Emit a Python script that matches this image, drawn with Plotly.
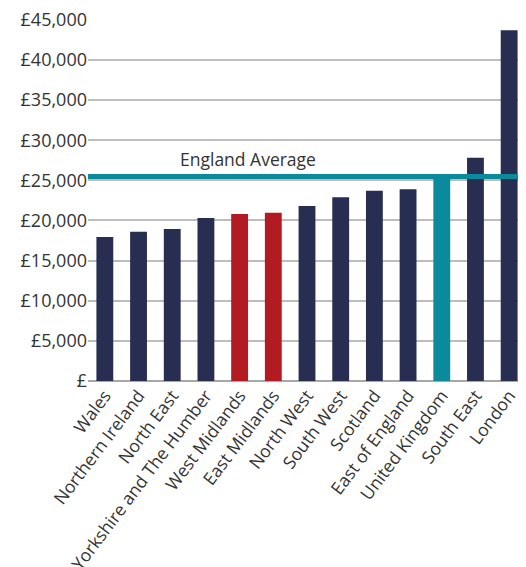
import plotly.graph_objects as go

regions = ["Wales", "Northern Ireland", "North East", "Yorkshire and The Humber",
           "West Midlands", "East Midlands", "North West", "South West", "Scotland",
           "East of England", "United Kingdom", "South East", "London"]
values = [17950, 18600, 18950, 20300, 20800, 20950, 21800, 22900, 23700, 23900,
          25500, 27800, 43700]
highlight = ["other", "other", "other", "other", "focus", "focus", "other", "other",
             "other", "other", "uk", "other", "other"]
england_average = 25470
tick_vals = [0, 5000, 10000, 15000, 20000, 25000, 30000, 35000, 40000, 45000]
tick_text = ["£", "£5,000", "£10,000", "£15,000", "£20,000", "£25,000", "£30,000",
             "£35,000", "£40,000", "£45,000"]

palette = {"other": "#272E51", "focus": "#B31B22", "uk": "#0A8A9A"}
colors = [palette[h] for h in highlight]

fig = go.Figure()
fig.add_trace(go.Bar(x=regions, y=values, marker=dict(color=colors, line=dict(width=0)),
                     hoverinfo="x+y"))

fig.add_shape(type="line", xref="paper", x0=0, x1=1, yref="y",
              y0=england_average, y1=england_average,
              line=dict(color="#0A8A9A", width=5), layer="above")
fig.add_annotation(x=4.25, y=27700, xref="x", yref="y", text="England Average",
                   showarrow=False, font=dict(size=17.5, color="#333333"))

# page body has an 8px default margin, so the figure is 8px smaller
fig.update_layout(
    width=518, height=559,
    margin=dict(l=80, r=0, t=11, b=186),
    paper_bgcolor="white", plot_bgcolor="white",
    bargap=0.5, showlegend=False,
    font=dict(family="Open Sans", size=17.5, color="#333333"),
)
fig.update_xaxes(tickangle=-53, showgrid=False, showline=False, ticks="",
                 automargin=False, tickfont=dict(size=17.5, color="#333333"))
fig.update_yaxes(range=[0, 45100], tickvals=tick_vals, ticktext=tick_text,
                 showgrid=True, gridcolor="#BDBDBD", gridwidth=1.5,
                 zeroline=True, zerolinecolor="#A8A8A8", zerolinewidth=1.5,
                 showline=False, ticks="", automargin=False,
                 ticklabeloverflow="allow",
                 tickfont=dict(size=18, color="#333333"))

fig.write_html("out.html")
